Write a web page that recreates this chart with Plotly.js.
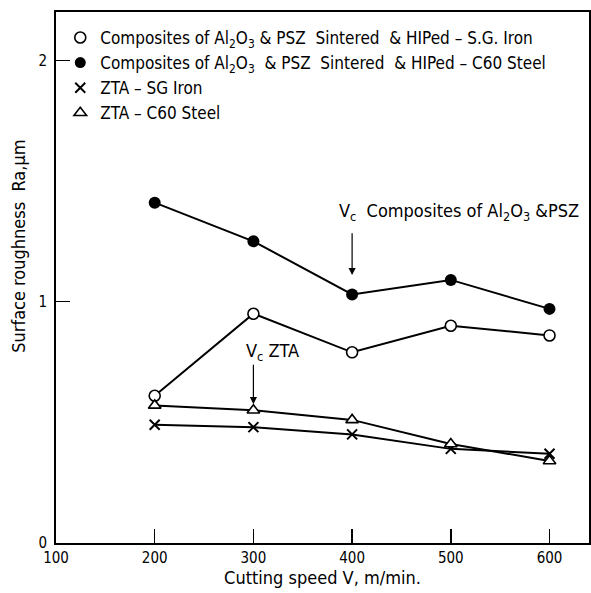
<!DOCTYPE html>
<html>
<head>
<meta charset="utf-8">
<script src="https://cdn.plot.ly/plotly-3.0.1.min.js"></script>
<style>html,body{margin:0;padding:0;background:#fff;}#chart{width:591px;height:593px;}</style>
</head>
<body>
<div id="chart"></div>
<script>
const speeds = [200, 300, 400, 500, 600];
const compositesSGIron = [0.61, 0.95, 0.79, 0.90, 0.86];
const compositesC60 = [1.41, 1.25, 1.03, 1.09, 0.97];
const ztaSGIron = [0.49, 0.48, 0.45, 0.39, 0.37];
const ztaC60 = [0.57, 0.55, 0.51, 0.41, 0.34];
const seriesNames = [
  "Composites of Al<sub>2</sub>O<sub>3</sub> &amp; PSZ  Sintered  &amp; HIPed – S.G. Iron",
  "Composites of Al<sub>2</sub>O<sub>3</sub>  &amp; PSZ  Sintered  &amp; HIPed – C60 Steel",
  "ZTA – SG Iron",
  "ZTA – C60 Steel"
];
const xTicks = [100, 200, 300, 400, 500, 600];
const yTicks = [0, 1, 2];

const FONT = "DejaVu Sans Condensed, Liberation Sans Narrow, DejaVu Sans, sans-serif";
const TXT = 18;
const markers = [
  {symbol: 'circle-open', size: 11, color: '#000', line: {width: 1.6, color: '#000'}},
  {symbol: 'circle', size: 11, color: '#000'},
  {symbol: 'x-thin-open', size: 10, color: '#000', line: {width: 2, color: '#000'}},
  {symbol: 'triangle-up-open', size: 11, color: '#000', line: {width: 1.6, color: '#000'}}
];
const series = [compositesSGIron, compositesC60, ztaSGIron, ztaC60];

const traces = [];
series.forEach((ys, i) => {
  const m = Object.assign({}, markers[i]);
  if (i === 0) { m.symbol = 'circle'; m.color = '#fff'; }
  if (i === 3) { m.symbol = 'triangle-up'; m.color = '#fff'; }
  if (i === 1) { m.size = 12; }
  traces.push({
    x: speeds, y: ys, mode: 'lines+markers', showlegend: false,
    line: {color: '#000', width: 2}, marker: m, cliponaxis: false
  });
});
series.forEach((ys, i) => {
  traces.push({
    x: [null], y: [null], mode: 'markers', name: seriesNames[i],
    marker: markers[i], showlegend: true
  });
});

const layout = {
  width: 591, height: 593,
  margin: {l: 56, r: 2, t: 12, b: 50},
  paper_bgcolor: '#fff', plot_bgcolor: '#fff',
  font: {family: FONT, size: TXT, color: '#000'},
  showlegend: true,
  legend: {x: 0.008, y: 0.985, xanchor: 'left', yanchor: 'top',
           bgcolor: 'rgba(0,0,0,0)', font: {family: FONT, size: TXT - 1, color: '#000'},
           tracegroupgap: 0, itemwidth: 30},
  xaxis: {
    range: [100, 640], tickvals: xTicks, ticktext: xTicks.map(String),
    ticks: 'inside', ticklen: 14, tickwidth: 1.5, tickcolor: '#000',
    showline: true, linecolor: '#000', linewidth: 2, mirror: true,
    showgrid: false, zeroline: false,
    tickfont: {family: FONT, size: 15},
    title: {text: 'Cutting speed V, m/min.', font: {family: FONT, size: TXT}, standoff: 4}
  },
  yaxis: {
    range: [0, 2.2], tickvals: yTicks, ticktext: yTicks.map(String),
    ticks: 'inside', ticklen: 14, tickwidth: 1.5, tickcolor: '#000',
    showline: true, linecolor: '#000', linewidth: 2, mirror: true,
    showgrid: false, zeroline: false, ticklabelstandoff: 4,
    tickfont: {family: FONT, size: 15}
  },
  annotations: [
    {xref: 'paper', yref: 'y', x: -0.072, y: 1.23, xanchor: 'center', yanchor: 'middle',
     text: 'Surface roughness  Ra,μm', textangle: -90, showarrow: false,
     font: {family: FONT, size: TXT}},
    {x: 400, y: 1.11, axref: 'x', ayref: 'y', ax: 400, ay: 1.29, text: '',
     showarrow: true, arrowhead: 2, arrowsize: 1.2, arrowwidth: 1.2, arrowcolor: '#000'},
    {x: 385, y: 1.37, xanchor: 'left', yanchor: 'middle', showarrow: false,
     text: 'V<sub>c</sub>  Composites of Al<sub>2</sub>O<sub>3</sub> &amp;PSZ',
     font: {family: FONT, size: TXT}},
    {x: 300, y: 0.575, axref: 'x', ayref: 'y', ax: 300, ay: 0.745, text: '',
     showarrow: true, arrowhead: 2, arrowsize: 1.2, arrowwidth: 1.2, arrowcolor: '#000'},
    {x: 290, y: 0.79, xanchor: 'left', yanchor: 'middle', showarrow: false,
     text: 'V<sub>c</sub> ZTA', font: {family: FONT, size: TXT}}
  ]
};

Plotly.newPlot('chart', traces, layout, {displayModeBar: false, staticPlot: true});
</script>
</body>
</html>
